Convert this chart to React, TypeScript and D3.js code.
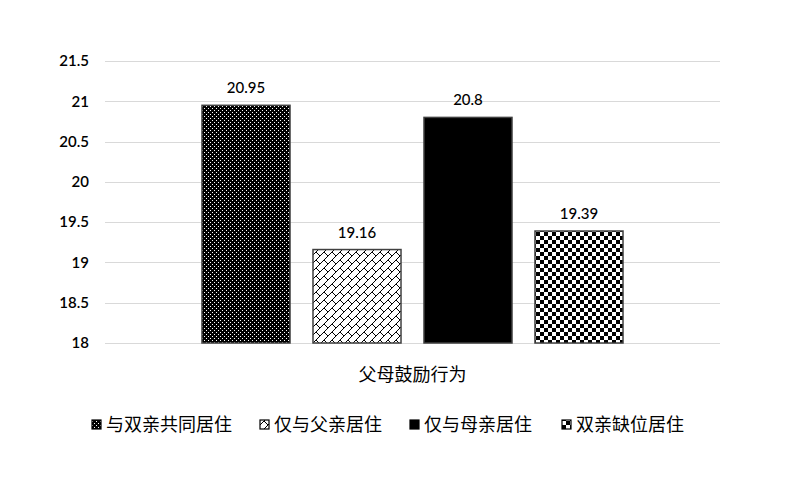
import React from "react";
import * as d3 from "d3";

const categories = ["父母鼓励行为"];
const seriesNames = ["与双亲共同居住", "仅与父亲居住", "仅与母亲居住", "双亲缺位居住"];
const seriesValues = [20.95, 19.16, 20.8, 19.39];
const yTicks = [18, 18.5, 19, 19.5, 20, 20.5, 21, 21.5];
const patternIds = ["pDots", "pBrick", "pSolid", "pCheck"];

const W = 800;
const H = 496;
const margin = { left: 105, right: 80, top: 61, bottom: 153 };

export default function App() {
  const x = d3
    .scaleBand<string>()
    .domain(categories)
    .range([margin.left, W - margin.right])
    .paddingInner(0)
    .paddingOuter(0.2304);
  const xs = d3
    .scaleBand<string>()
    .domain(seriesNames)
    .range([0, x.bandwidth()])
    .paddingInner(0.207);
  const y = d3.scaleLinear().domain([18, 21.5]).range([H - margin.bottom, margin.top]);

  const font = "Lato, 'Open Sans', sans-serif";
  const cjk = "'Noto Sans CJK SC', sans-serif";

  const legendX = [92, 260, 410, 562];

  return (
    <svg width={W} height={H} style={{ position: "absolute", left: 0, top: 0, background: "#fff" }}>
      <defs>
        <pattern id="pDots" width="4" height="4" patternUnits="userSpaceOnUse">
          <rect width="4" height="4" fill="#000" />
          <rect x="0" y="0" width="1" height="1" fill="#fff" />
          <rect x="2" y="2" width="1" height="1" fill="#fff" />
        </pattern>
        <pattern id="pBrick" width="8" height="8" patternUnits="userSpaceOnUse">
          <rect width="8" height="8" fill="#fff" />
          <path d="M0,8 L8,0 M-1,1 L1,-1 M7,9 L9,7 M4,4 L8,8" stroke="#000" strokeWidth="1" fill="none" />
        </pattern>
        <pattern id="pSolid" width="4" height="4" patternUnits="userSpaceOnUse">
          <rect width="4" height="4" fill="#000" />
        </pattern>
        <pattern id="pCheck" width="8" height="8" patternUnits="userSpaceOnUse">
          <rect width="8" height="8" fill="#fff" />
          <rect x="0" y="0" width="4" height="4" fill="#000" />
          <rect x="4" y="4" width="4" height="4" fill="#000" />
        </pattern>
      </defs>

      {/* gridlines */}
      {yTicks.map((t) => (
        <line
          key={t}
          x1={margin.left}
          x2={W - margin.right}
          y1={Math.round(y(t)) + 0.5}
          y2={Math.round(y(t)) + 0.5}
          stroke="#d9d9d9"
          strokeWidth={1.2}
        />
      ))}
      {yTicks.map((t) => (
        <text
          key={"l" + t}
          x={89}
          y={y(t)}
          dy="0.35em"
          textAnchor="end"
          fontFamily={font}
          fontSize={15}
          fontWeight={600}
          fill="#000"
        >
          {t}
        </text>
      ))}

      {/* bars */}
      {categories.map((c) =>
        seriesNames.map((s, i) => {
          const bx = (x(c) ?? 0) + (xs(s) ?? 0);
          const by = y(seriesValues[i]);
          return (
            <g key={s}>
              <rect
                x={bx}
                y={by}
                width={xs.bandwidth()}
                height={y(18) - by}
                fill={`url(#${patternIds[i]})`}
                stroke="#404040"
                strokeWidth={1.5}
              />
              <text
                x={bx + xs.bandwidth() / 2}
                y={by - 12}
                textAnchor="middle"
                fontFamily={font}
                fontSize={15}
                fontWeight={500}
                fill="#000"
              >
                {seriesValues[i]}
              </text>
            </g>
          );
        })
      )}

      {/* category label */}
      {categories.map((c) => (
        <text
          key={c}
          x={(x(c) ?? 0) + x.bandwidth() / 2}
          y={381}
          textAnchor="middle"
          fontFamily={cjk}
          fontSize={18}
          fill="#000"
        >
          {c}
        </text>
      ))}

      {/* legend */}
      {seriesNames.map((s, i) => (
        <g key={"lg" + s} transform={`translate(${legendX[i]},425)`}>
          <rect x={0} y={-5} width={9} height={9} fill={`url(#${patternIds[i]})`} stroke="#000" strokeWidth={1.2} />
          <text x={14} y={0} dy="0.35em" fontFamily={cjk} fontSize={18} fill="#000">
            {s}
          </text>
        </g>
      ))}
    </svg>
  );
}
